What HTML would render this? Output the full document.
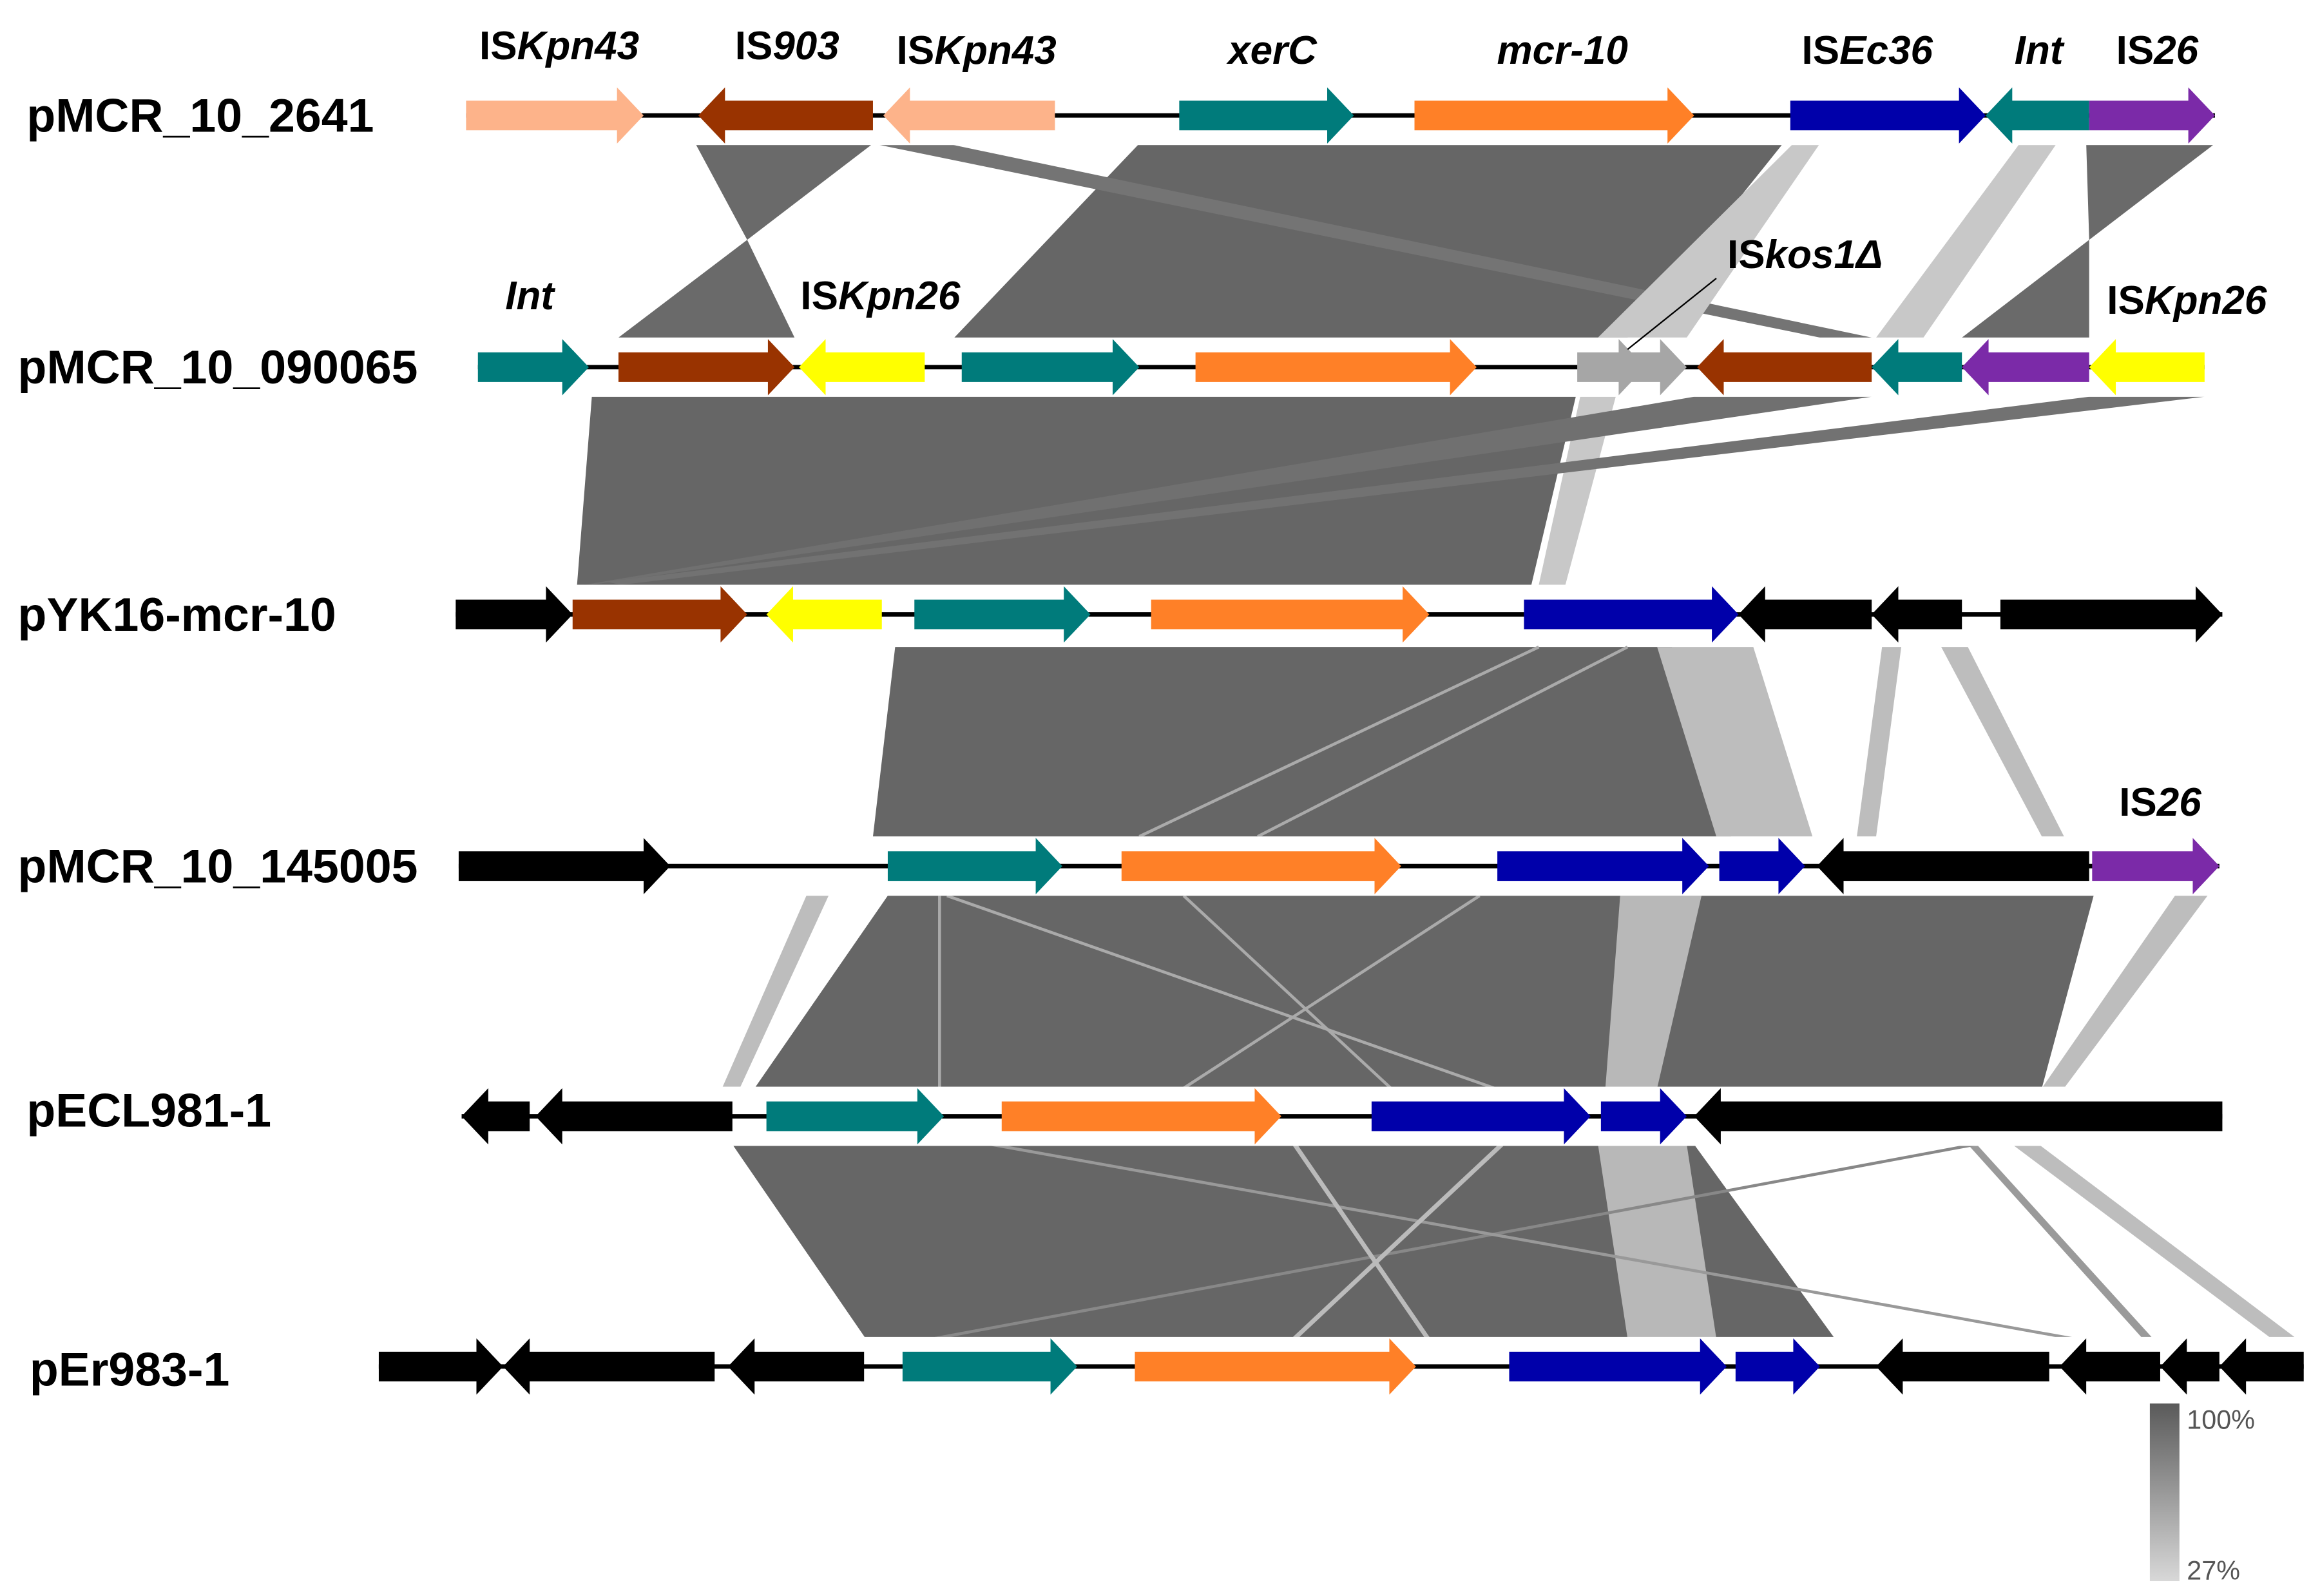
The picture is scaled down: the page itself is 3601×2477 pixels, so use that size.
<!DOCTYPE html>
<html><head><meta charset="utf-8"><style>
html,body{margin:0;padding:0;background:#fff;width:3601px;height:2477px;overflow:hidden}
svg{display:block}
text{font-family:"Liberation Sans",Arial,sans-serif;font-weight:bold}
.nm{font-size:32px}
.lb{font-size:27px;font-style:italic}
.lb tspan.n{font-style:normal}
</style></head><body>
<svg id="s" width="3601" height="2477" viewBox="0 0 1568 1078" preserveAspectRatio="none" xmlns="http://www.w3.org/2000/svg">
<defs><linearGradient id="g" x1="0" y1="0" x2="0" y2="1"><stop offset="0" stop-color="#5a5a5a"/><stop offset="1" stop-color="#d8d8d8"/></linearGradient></defs>
<g id="bands">
<!-- row1-row2 -->
<polygon points="470,97 590,97 505,162" fill="#6a6a6a"/>
<polygon points="505,162 418,228 537,228" fill="#6a6a6a"/>
<polygon points="770,97 1205,97 1100,228 645,228" fill="#666"/>
<polygon points="590,97 640,97 1265,228 1230,228" fill="#747474"/>
<polygon points="1212,97 1230,97 1140,228 1080,228" fill="#c8c8c8"/>
<polygon points="1365,97 1390,97 1300,228 1268,228" fill="#c8c8c8"/>
<polygon points="1410,97 1497,97 1412,162" fill="#6a6a6a"/>
<polygon points="1412,162 1326,228 1412,228" fill="#6a6a6a"/>
<!-- row2-row3 -->
<polygon points="400,268 1065,268 1035,395 390,395" fill="#666"/>
<polygon points="1068,268 1092,268 1058,395 1040,395" fill="#c8c8c8"/>
<polygon points="1145,268 1265,268 400,395 395,395" fill="#707070"/>
<polygon points="1412,268 1490,268 420,395 410,393" fill="#727272"/>
<!-- row3-row4 -->
<polygon points="605,437 1130,437 1170,565 590,565" fill="#666"/>
<polygon points="1120,437 1185,437 1225,565 1160,565" fill="#bdbdbd"/>
<polygon points="1272,437 1285,437 1268,565 1255,565" fill="#bdbdbd"/>
<polygon points="1312,437 1330,437 1395,565 1380,565" fill="#bdbdbd"/>
<!-- row4-row5 -->
<polygon points="600,605 1415,605 1380,735 510,735" fill="#666"/>
<polygon points="1095,605 1150,605 1120,735 1085,735" fill="#b8b8b8"/>
<polygon points="545,605 560,605 500,735 488,735" fill="#bdbdbd"/>
<polygon points="1470,605 1492,605 1395,735 1380,735" fill="#bdbdbd"/>
<!-- row5-row6 -->
<polygon points="495,773 1145,773 1240,904 585,904" fill="#666"/>
<polygon points="1080,773 1140,773 1160,904 1100,904" fill="#b8b8b8"/>
<polygon points="1330,773 1336,773 1455,904 1448,904" fill="#9a9a9a"/>
<polygon points="1360,773 1378,773 1552,904 1535,904" fill="#bdbdbd"/>
<line x1="1335" y1="773" x2="632" y2="904" stroke="#888" stroke-width="2"/>
<line x1="670" y1="773" x2="1400" y2="904" stroke="#999" stroke-width="2"/>
<line x1="1015" y1="773" x2="875" y2="904" stroke="#bbb" stroke-width="3"/>
<line x1="875" y1="773" x2="965" y2="904" stroke="#bbb" stroke-width="3"/>
<line x1="640" y1="605" x2="1010" y2="735" stroke="#aaa" stroke-width="2"/>
<line x1="800" y1="605" x2="940" y2="735" stroke="#aaa" stroke-width="2"/>
<line x1="1000" y1="605" x2="800" y2="735" stroke="#aaa" stroke-width="2"/>
<line x1="635" y1="605" x2="635" y2="735" stroke="#aaa" stroke-width="2"/>
<line x1="1040" y1="437" x2="770" y2="565" stroke="#aaa" stroke-width="2"/>
<line x1="1100" y1="437" x2="850" y2="565" stroke="#aaa" stroke-width="2"/>
</g>
<g id="rows"></g>
<g fill="#000">
<text class="nm" x="18" y="89">pMCR_10_2641</text>
<text class="nm" x="12" y="259">pMCR_10_090065</text>
<text class="nm" x="12" y="426">pYK16-mcr-10</text>
<text class="nm" x="12" y="596">pMCR_10_145005</text>
<text class="nm" x="18" y="761">pECL981-1</text>
<text class="nm" x="20" y="936">pEr983-1</text>
<g text-anchor="middle">
<text class="lb" x="378" y="40"><tspan class="n">IS</tspan>Kpn43</text>
<text class="lb" x="532" y="40"><tspan class="n">IS</tspan>903</text>
<text class="lb" x="660" y="43"><tspan class="n">IS</tspan>Kpn43</text>
<text class="lb" x="860" y="43">xerC</text>
<text class="lb" x="1056" y="43">mcr-10</text>
<text class="lb" x="1262" y="43"><tspan class="n">IS</tspan>Ec36</text>
<text class="lb" x="1378" y="43">Int</text>
<text class="lb" x="1458" y="43"><tspan class="n">IS</tspan>26</text>
<text class="lb" x="358" y="209">Int</text>
<text class="lb" x="595" y="209"><tspan class="n">IS</tspan>Kpn26</text>
<text class="lb" x="1220" y="181"><tspan class="n">IS</tspan>kos1Δ</text>
<text class="lb" x="1478" y="212"><tspan class="n">IS</tspan>Kpn26</text>
<text class="lb" x="1460" y="551"><tspan class="n">IS</tspan>26</text>
</g>
</g>
<line x1="1160" y1="188" x2="1100" y2="236" stroke="#000" stroke-width="1"/>
<rect x="1453" y="948" width="20" height="120" fill="url(#g)"/>
<text x="1478" y="965" font-size="18" fill="#555" style="font-weight:normal">100%</text>
<text x="1478" y="1067" font-size="18" fill="#555" style="font-weight:normal">27%</text>
</svg>
<script>
var C={pe:"#FDB38A",br:"#993300",te:"#007B7B",or:"#FF8027",bl:"#0000AA",pu:"#7B2AA8",ye:"#FFFF00",gr:"#A6A6A6",bk:"#000"};
var rows=[
[78,315,1497,[[315,435,1,"pe"],[472,590,-1,"br"],[597,713,-1,"pe"],[797,915,1,"te"],[956,1145,1,"or"],[1210,1342,1,"bl"],[1342,1412,-1,"te"],[1412,1497,1,"pu"]]],
[248,323,1490,[[323,398,1,"te"],[418,537,1,"br"],[540,625,-1,"ye"],[650,770,1,"te"],[808,998,1,"or"],[1066,1112,1,"gr"],[1098,1140,1,"gr"],[1147,1265,-1,"br"],[1265,1326,-1,"te"],[1326,1412,-1,"pu"],[1412,1490,-1,"ye"]]],
[415,308,1502,[[308,387,1,"bk"],[387,505,1,"br"],[518,596,-1,"ye"],[618,737,1,"te"],[778,966,1,"or"],[1030,1175,1,"bl"],[1175,1265,-1,"bk"],[1265,1326,-1,"bk"],[1352,1502,1,"bk"]]],
[585,310,1500,[[310,453,1,"bk"],[600,718,1,"te"],[758,947,1,"or"],[1012,1155,1,"bl"],[1162,1220,1,"bl"],[1228,1412,-1,"bk"],[1414,1500,1,"pu"]]],
[754,312,1502,[[312,358,-1,"bk"],[362,495,-1,"bk"],[518,638,1,"te"],[677,866,1,"or"],[927,1075,1,"bl"],[1082,1140,1,"bl"],[1145,1502,-1,"bk"]]],
[923,256,1557,[[256,340,1,"bk"],[340,483,-1,"bk"],[492,584,-1,"bk"],[610,728,1,"te"],[767,957,1,"or"],[1020,1167,1,"bl"],[1173,1230,1,"bl"],[1268,1385,-1,"bk"],[1392,1460,-1,"bk"],[1460,1500,-1,"bk"],[1500,1557,-1,"bk"]]]
];
var s="";
rows.forEach(function(r){
 var y=r[0];
 s+='<rect x="'+(r[1]-5)+'" y="'+(y-20)+'" width="'+(r[2]-r[1]+10)+'" height="40" fill="#fff"/>';
 s+='<line x1="'+r[1]+'" y1="'+y+'" x2="'+r[2]+'" y2="'+y+'" stroke="#000" stroke-width="3"/>';
 r[3].forEach(function(a){
  var x1=a[0],x2=a[1],d=a[2],h=Math.min(18,(x2-x1)*0.6),b=10,H=19,p;
  if(d>0)p=[[x1,y-b],[x2-h,y-b],[x2-h,y-H],[x2,y],[x2-h,y+H],[x2-h,y+b],[x1,y+b]];
  else p=[[x2,y-b],[x1+h,y-b],[x1+h,y-H],[x1,y],[x1+h,y+H],[x1+h,y+b],[x2,y+b]];
  s+='<polygon points="'+p.map(function(q){return q.join(",")}).join(" ")+'" fill="'+C[a[3]]+'"/>';
 });
});
document.getElementById("rows").innerHTML=s;
</script>
</body></html>
